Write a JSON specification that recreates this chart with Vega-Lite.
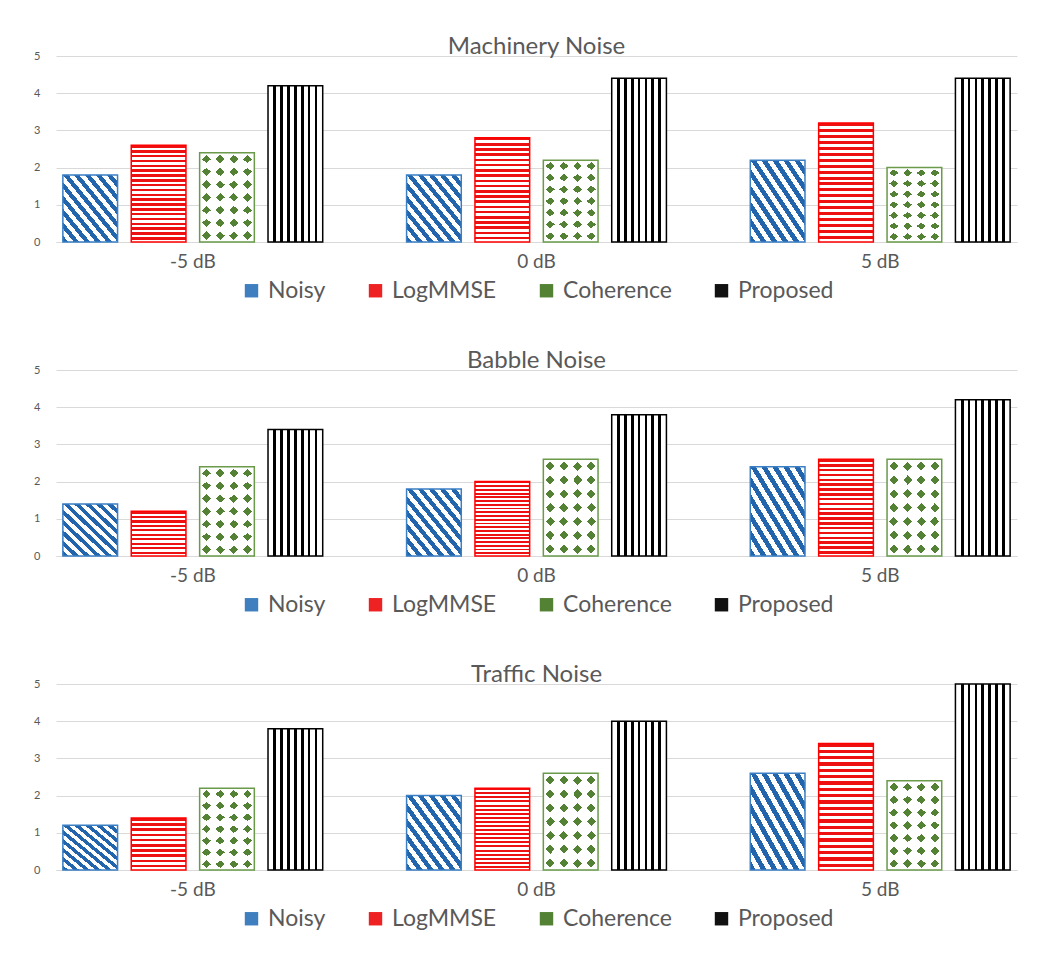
{
  "$schema": "https://vega.github.io/schema/vega-lite/v6.json",
  "padding": {"left": 33, "top": 35, "right": 10, "bottom": 5},
  "datasets": {
    "scores": [
      {"noise": "Machinery Noise", "snr": "-5 dB", "method": "Noisy", "score": 1.8},
      {"noise": "Machinery Noise", "snr": "-5 dB", "method": "LogMMSE", "score": 2.6},
      {"noise": "Machinery Noise", "snr": "-5 dB", "method": "Coherence", "score": 2.4},
      {"noise": "Machinery Noise", "snr": "-5 dB", "method": "Proposed", "score": 4.2},
      {"noise": "Machinery Noise", "snr": "0 dB", "method": "Noisy", "score": 1.8},
      {"noise": "Machinery Noise", "snr": "0 dB", "method": "LogMMSE", "score": 2.8},
      {"noise": "Machinery Noise", "snr": "0 dB", "method": "Coherence", "score": 2.2},
      {"noise": "Machinery Noise", "snr": "0 dB", "method": "Proposed", "score": 4.4},
      {"noise": "Machinery Noise", "snr": "5 dB", "method": "Noisy", "score": 2.2},
      {"noise": "Machinery Noise", "snr": "5 dB", "method": "LogMMSE", "score": 3.2},
      {"noise": "Machinery Noise", "snr": "5 dB", "method": "Coherence", "score": 2.0},
      {"noise": "Machinery Noise", "snr": "5 dB", "method": "Proposed", "score": 4.4},
      {"noise": "Babble Noise", "snr": "-5 dB", "method": "Noisy", "score": 1.4},
      {"noise": "Babble Noise", "snr": "-5 dB", "method": "LogMMSE", "score": 1.2},
      {"noise": "Babble Noise", "snr": "-5 dB", "method": "Coherence", "score": 2.4},
      {"noise": "Babble Noise", "snr": "-5 dB", "method": "Proposed", "score": 3.4},
      {"noise": "Babble Noise", "snr": "0 dB", "method": "Noisy", "score": 1.8},
      {"noise": "Babble Noise", "snr": "0 dB", "method": "LogMMSE", "score": 2.0},
      {"noise": "Babble Noise", "snr": "0 dB", "method": "Coherence", "score": 2.6},
      {"noise": "Babble Noise", "snr": "0 dB", "method": "Proposed", "score": 3.8},
      {"noise": "Babble Noise", "snr": "5 dB", "method": "Noisy", "score": 2.4},
      {"noise": "Babble Noise", "snr": "5 dB", "method": "LogMMSE", "score": 2.6},
      {"noise": "Babble Noise", "snr": "5 dB", "method": "Coherence", "score": 2.6},
      {"noise": "Babble Noise", "snr": "5 dB", "method": "Proposed", "score": 4.2},
      {"noise": "Traffic Noise", "snr": "-5 dB", "method": "Noisy", "score": 1.2},
      {"noise": "Traffic Noise", "snr": "-5 dB", "method": "LogMMSE", "score": 1.4},
      {"noise": "Traffic Noise", "snr": "-5 dB", "method": "Coherence", "score": 2.2},
      {"noise": "Traffic Noise", "snr": "-5 dB", "method": "Proposed", "score": 3.8},
      {"noise": "Traffic Noise", "snr": "0 dB", "method": "Noisy", "score": 2.0},
      {"noise": "Traffic Noise", "snr": "0 dB", "method": "LogMMSE", "score": 2.2},
      {"noise": "Traffic Noise", "snr": "0 dB", "method": "Coherence", "score": 2.6},
      {"noise": "Traffic Noise", "snr": "0 dB", "method": "Proposed", "score": 4.0},
      {"noise": "Traffic Noise", "snr": "5 dB", "method": "Noisy", "score": 2.6},
      {"noise": "Traffic Noise", "snr": "5 dB", "method": "LogMMSE", "score": 3.4},
      {"noise": "Traffic Noise", "snr": "5 dB", "method": "Coherence", "score": 2.4},
      {"noise": "Traffic Noise", "snr": "5 dB", "method": "Proposed", "score": 5.0}
    ]
  },
  "spacing": 46,
  "resolve": {"legend": {"fill": "independent"}},
  "vconcat": [
    {
      "title": "Machinery Noise",
      "width": 961, "height": 186,
      "data": {"name": "scores"},
      "transform": [{"filter": "datum.noise === 'Machinery Noise'"}],
      "encoding": {
        "x": {"field": "snr", "type": "nominal", "sort": ["-5 dB", "0 dB", "5 dB"], "scale": {"paddingInner": 0.244, "paddingOuter": 0.02}, "axis": {"title": null}},
        "xOffset": {"field": "method", "type": "nominal", "scale": {"domain": ["Noisy", "LogMMSE", "Coherence", "Proposed"], "paddingInner": 0.2, "paddingOuter": 0}},
        "y": {"field": "score", "type": "quantitative", "scale": {"domain": [0, 5], "nice": false}, "axis": {"title": null, "values": [0, 1, 2, 3, 4, 5]}}
      },
      "layer": [
        {"mark": {"type": "bar"}, "encoding": {"fill": {"field": "method", "type": "nominal", "scale": {"domain": ["Noisy", "LogMMSE", "Coherence", "Proposed"], "range": ["#3f7fc0", "#ee2222", "#548235", "#111111"]}, "legend": {"title": null}}}},
        {"transform": [{"filter": "datum.method === 'Noisy'"}], "mark": {"type": "bar", "fill": {"gradient": "linear", "x1": 0, "y1": 1, "x2": 1, "y2": 0, "stops": [
          {"offset":0,"color":"#2265ac"},{"offset":0.05,"color":"#2265ac"},{"offset":0.05,"color":"#fff"},{"offset":0.1,"color":"#fff"},
          {"offset":0.1,"color":"#2265ac"},{"offset":0.15,"color":"#2265ac"},{"offset":0.15,"color":"#fff"},{"offset":0.2,"color":"#fff"},
          {"offset":0.2,"color":"#2265ac"},{"offset":0.25,"color":"#2265ac"},{"offset":0.25,"color":"#fff"},{"offset":0.3,"color":"#fff"},
          {"offset":0.3,"color":"#2265ac"},{"offset":0.35,"color":"#2265ac"},{"offset":0.35,"color":"#fff"},{"offset":0.4,"color":"#fff"},
          {"offset":0.4,"color":"#2265ac"},{"offset":0.45,"color":"#2265ac"},{"offset":0.45,"color":"#fff"},{"offset":0.5,"color":"#fff"},
          {"offset":0.5,"color":"#2265ac"},{"offset":0.55,"color":"#2265ac"},{"offset":0.55,"color":"#fff"},{"offset":0.6,"color":"#fff"},
          {"offset":0.6,"color":"#2265ac"},{"offset":0.65,"color":"#2265ac"},{"offset":0.65,"color":"#fff"},{"offset":0.7,"color":"#fff"},
          {"offset":0.7,"color":"#2265ac"},{"offset":0.75,"color":"#2265ac"},{"offset":0.75,"color":"#fff"},{"offset":0.8,"color":"#fff"},
          {"offset":0.8,"color":"#2265ac"},{"offset":0.85,"color":"#2265ac"},{"offset":0.85,"color":"#fff"},{"offset":0.9,"color":"#fff"},
          {"offset":0.9,"color":"#2265ac"},{"offset":0.95,"color":"#2265ac"},{"offset":0.95,"color":"#fff"},{"offset":1,"color":"#fff"}]}}},
        {"transform": [{"filter": "datum.method === 'LogMMSE' && datum.score < 1.7"}], "mark": {"type": "bar", "fill": {"gradient": "linear", "x1": 0, "y1": 0, "x2": 0, "y2": 1, "stops": [
          {"offset":0,"color":"#ee1111"},{"offset":0.05,"color":"#ee1111"},{"offset":0.05,"color":"#fff"},{"offset":0.1,"color":"#fff"},
          {"offset":0.1,"color":"#ee1111"},{"offset":0.15,"color":"#ee1111"},{"offset":0.15,"color":"#fff"},{"offset":0.2,"color":"#fff"},
          {"offset":0.2,"color":"#ee1111"},{"offset":0.25,"color":"#ee1111"},{"offset":0.25,"color":"#fff"},{"offset":0.3,"color":"#fff"},
          {"offset":0.3,"color":"#ee1111"},{"offset":0.35,"color":"#ee1111"},{"offset":0.35,"color":"#fff"},{"offset":0.4,"color":"#fff"},
          {"offset":0.4,"color":"#ee1111"},{"offset":0.45,"color":"#ee1111"},{"offset":0.45,"color":"#fff"},{"offset":0.5,"color":"#fff"},
          {"offset":0.5,"color":"#ee1111"},{"offset":0.55,"color":"#ee1111"},{"offset":0.55,"color":"#fff"},{"offset":0.6,"color":"#fff"},
          {"offset":0.6,"color":"#ee1111"},{"offset":0.65,"color":"#ee1111"},{"offset":0.65,"color":"#fff"},{"offset":0.7,"color":"#fff"},
          {"offset":0.7,"color":"#ee1111"},{"offset":0.75,"color":"#ee1111"},{"offset":0.75,"color":"#fff"},{"offset":0.8,"color":"#fff"},
          {"offset":0.8,"color":"#ee1111"},{"offset":0.85,"color":"#ee1111"},{"offset":0.85,"color":"#fff"},{"offset":0.9,"color":"#fff"},
          {"offset":0.9,"color":"#ee1111"},{"offset":0.95,"color":"#ee1111"},{"offset":0.95,"color":"#fff"},{"offset":1,"color":"#fff"}]}}},
        {"transform": [{"filter": "datum.method === 'LogMMSE' && datum.score >= 1.7"}], "mark": {"type": "bar", "fill": {"gradient": "linear", "x1": 0, "y1": 0, "x2": 0, "y2": 1, "stops": [
          {"offset":0,"color":"#ee1111"},{"offset":0.025,"color":"#ee1111"},{"offset":0.025,"color":"#fff"},{"offset":0.05,"color":"#fff"},
          {"offset":0.05,"color":"#ee1111"},{"offset":0.075,"color":"#ee1111"},{"offset":0.075,"color":"#fff"},{"offset":0.1,"color":"#fff"},
          {"offset":0.1,"color":"#ee1111"},{"offset":0.125,"color":"#ee1111"},{"offset":0.125,"color":"#fff"},{"offset":0.15,"color":"#fff"},
          {"offset":0.15,"color":"#ee1111"},{"offset":0.175,"color":"#ee1111"},{"offset":0.175,"color":"#fff"},{"offset":0.2,"color":"#fff"},
          {"offset":0.2,"color":"#ee1111"},{"offset":0.225,"color":"#ee1111"},{"offset":0.225,"color":"#fff"},{"offset":0.25,"color":"#fff"},
          {"offset":0.25,"color":"#ee1111"},{"offset":0.275,"color":"#ee1111"},{"offset":0.275,"color":"#fff"},{"offset":0.3,"color":"#fff"},
          {"offset":0.3,"color":"#ee1111"},{"offset":0.325,"color":"#ee1111"},{"offset":0.325,"color":"#fff"},{"offset":0.35,"color":"#fff"},
          {"offset":0.35,"color":"#ee1111"},{"offset":0.375,"color":"#ee1111"},{"offset":0.375,"color":"#fff"},{"offset":0.4,"color":"#fff"},
          {"offset":0.4,"color":"#ee1111"},{"offset":0.425,"color":"#ee1111"},{"offset":0.425,"color":"#fff"},{"offset":0.45,"color":"#fff"},
          {"offset":0.45,"color":"#ee1111"},{"offset":0.475,"color":"#ee1111"},{"offset":0.475,"color":"#fff"},{"offset":0.5,"color":"#fff"},
          {"offset":0.5,"color":"#ee1111"},{"offset":0.525,"color":"#ee1111"},{"offset":0.525,"color":"#fff"},{"offset":0.55,"color":"#fff"},
          {"offset":0.55,"color":"#ee1111"},{"offset":0.575,"color":"#ee1111"},{"offset":0.575,"color":"#fff"},{"offset":0.6,"color":"#fff"},
          {"offset":0.6,"color":"#ee1111"},{"offset":0.625,"color":"#ee1111"},{"offset":0.625,"color":"#fff"},{"offset":0.65,"color":"#fff"},
          {"offset":0.65,"color":"#ee1111"},{"offset":0.675,"color":"#ee1111"},{"offset":0.675,"color":"#fff"},{"offset":0.7,"color":"#fff"},
          {"offset":0.7,"color":"#ee1111"},{"offset":0.725,"color":"#ee1111"},{"offset":0.725,"color":"#fff"},{"offset":0.75,"color":"#fff"},
          {"offset":0.75,"color":"#ee1111"},{"offset":0.775,"color":"#ee1111"},{"offset":0.775,"color":"#fff"},{"offset":0.8,"color":"#fff"},
          {"offset":0.8,"color":"#ee1111"},{"offset":0.825,"color":"#ee1111"},{"offset":0.825,"color":"#fff"},{"offset":0.85,"color":"#fff"},
          {"offset":0.85,"color":"#ee1111"},{"offset":0.875,"color":"#ee1111"},{"offset":0.875,"color":"#fff"},{"offset":0.9,"color":"#fff"},
          {"offset":0.9,"color":"#ee1111"},{"offset":0.925,"color":"#ee1111"},{"offset":0.925,"color":"#fff"},{"offset":0.95,"color":"#fff"},
          {"offset":0.95,"color":"#ee1111"},{"offset":0.975,"color":"#ee1111"},{"offset":0.975,"color":"#fff"},{"offset":1,"color":"#fff"}]}}},
        {"transform": [{"filter": "datum.method === 'Coherence'"}], "mark": {"type": "bar", "fill": {"gradient": "linear", "x1": 0, "y1": 0, "x2": 1, "y2": 0, "stops": [
          {"offset":0,"color":"#fff"},{"offset":0.0425,"color":"#fff"},{"offset":0.0425,"color":"rgba(255,255,255,0)"},{"offset":0.2075,"color":"rgba(255,255,255,0)"},
          {"offset":0.2075,"color":"#fff"},{"offset":0.2925,"color":"#fff"},{"offset":0.2925,"color":"rgba(255,255,255,0)"},{"offset":0.4575,"color":"rgba(255,255,255,0)"},
          {"offset":0.4575,"color":"#fff"},{"offset":0.5425,"color":"#fff"},{"offset":0.5425,"color":"rgba(255,255,255,0)"},{"offset":0.7075,"color":"rgba(255,255,255,0)"},
          {"offset":0.7075,"color":"#fff"},{"offset":0.7925,"color":"#fff"},{"offset":0.7925,"color":"rgba(255,255,255,0)"},{"offset":0.9575,"color":"rgba(255,255,255,0)"},
          {"offset":0.9575,"color":"#fff"},{"offset":1,"color":"#fff"}]}}},
        {"transform": [{"filter": "datum.method === 'Coherence'"}], "mark": {"type": "bar", "fill": {"gradient": "linear", "x1": 0, "y1": 0, "x2": 0, "y2": 1, "stops": [
          {"offset":0,"color":"#fff"},{"offset":0.0243,"color":"#fff"},{"offset":0.0243,"color":"rgba(255,255,255,0)"},{"offset":0.1185,"color":"rgba(255,255,255,0)"},
          {"offset":0.1185,"color":"#fff"},{"offset":0.1672,"color":"#fff"},{"offset":0.1672,"color":"rgba(255,255,255,0)"},{"offset":0.2614,"color":"rgba(255,255,255,0)"},
          {"offset":0.2614,"color":"#fff"},{"offset":0.31,"color":"#fff"},{"offset":0.31,"color":"rgba(255,255,255,0)"},{"offset":0.4042,"color":"rgba(255,255,255,0)"},
          {"offset":0.4042,"color":"#fff"},{"offset":0.4529,"color":"#fff"},{"offset":0.4529,"color":"rgba(255,255,255,0)"},{"offset":0.5471,"color":"rgba(255,255,255,0)"},
          {"offset":0.5471,"color":"#fff"},{"offset":0.5958,"color":"#fff"},{"offset":0.5958,"color":"rgba(255,255,255,0)"},{"offset":0.69,"color":"rgba(255,255,255,0)"},
          {"offset":0.69,"color":"#fff"},{"offset":0.7386,"color":"#fff"},{"offset":0.7386,"color":"rgba(255,255,255,0)"},{"offset":0.8328,"color":"rgba(255,255,255,0)"},
          {"offset":0.8328,"color":"#fff"},{"offset":0.8815,"color":"#fff"},{"offset":0.8815,"color":"rgba(255,255,255,0)"},{"offset":0.9757,"color":"rgba(255,255,255,0)"},
          {"offset":0.9757,"color":"#fff"},{"offset":1,"color":"#fff"}]}}},
        {"transform": [{"filter": "datum.method === 'Coherence'"}], "mark": {"type": "bar", "fill": {"gradient": "linear", "x1": 0, "y1": 0, "x2": 0.6769, "y2": 1.1846, "stops": [
          {"offset":0,"color":"rgba(255,255,255,0)"},{"offset":0.03,"color":"rgba(255,255,255,0)"},{"offset":0.03,"color":"#fff"},{"offset":0.0609,"color":"#fff"},
          {"offset":0.0609,"color":"rgba(255,255,255,0)"},{"offset":0.1209,"color":"rgba(255,255,255,0)"},{"offset":0.1209,"color":"#fff"},{"offset":0.1518,"color":"#fff"},
          {"offset":0.1518,"color":"rgba(255,255,255,0)"},{"offset":0.2118,"color":"rgba(255,255,255,0)"},{"offset":0.2118,"color":"#fff"},{"offset":0.2427,"color":"#fff"},
          {"offset":0.2427,"color":"rgba(255,255,255,0)"},{"offset":0.3027,"color":"rgba(255,255,255,0)"},{"offset":0.3027,"color":"#fff"},{"offset":0.3336,"color":"#fff"},
          {"offset":0.3336,"color":"rgba(255,255,255,0)"},{"offset":0.3936,"color":"rgba(255,255,255,0)"},{"offset":0.3936,"color":"#fff"},{"offset":0.4245,"color":"#fff"},
          {"offset":0.4245,"color":"rgba(255,255,255,0)"},{"offset":0.4845,"color":"rgba(255,255,255,0)"},{"offset":0.4845,"color":"#fff"},{"offset":0.5155,"color":"#fff"},
          {"offset":0.5155,"color":"rgba(255,255,255,0)"},{"offset":0.5755,"color":"rgba(255,255,255,0)"},{"offset":0.5755,"color":"#fff"},{"offset":0.6064,"color":"#fff"},
          {"offset":0.6064,"color":"rgba(255,255,255,0)"},{"offset":0.6664,"color":"rgba(255,255,255,0)"},{"offset":0.6664,"color":"#fff"},{"offset":0.6973,"color":"#fff"},
          {"offset":0.6973,"color":"rgba(255,255,255,0)"},{"offset":0.7573,"color":"rgba(255,255,255,0)"},{"offset":0.7573,"color":"#fff"},{"offset":0.7882,"color":"#fff"},
          {"offset":0.7882,"color":"rgba(255,255,255,0)"},{"offset":0.8482,"color":"rgba(255,255,255,0)"},{"offset":0.8482,"color":"#fff"},{"offset":0.8791,"color":"#fff"},
          {"offset":0.8791,"color":"rgba(255,255,255,0)"},{"offset":0.9391,"color":"rgba(255,255,255,0)"},{"offset":0.9391,"color":"#fff"},{"offset":0.97,"color":"#fff"},
          {"offset":0.97,"color":"rgba(255,255,255,0)"},{"offset":1,"color":"rgba(255,255,255,0)"}]}}},
        {"transform": [{"filter": "datum.method === 'Coherence'"}], "mark": {"type": "bar", "fill": {"gradient": "linear", "x1": 0, "y1": 1, "x2": 0.6769, "y2": -0.1846, "stops": [
          {"offset":0,"color":"rgba(255,255,255,0)"},{"offset":0.03,"color":"rgba(255,255,255,0)"},{"offset":0.03,"color":"#fff"},{"offset":0.0609,"color":"#fff"},
          {"offset":0.0609,"color":"rgba(255,255,255,0)"},{"offset":0.1209,"color":"rgba(255,255,255,0)"},{"offset":0.1209,"color":"#fff"},{"offset":0.1518,"color":"#fff"},
          {"offset":0.1518,"color":"rgba(255,255,255,0)"},{"offset":0.2118,"color":"rgba(255,255,255,0)"},{"offset":0.2118,"color":"#fff"},{"offset":0.2427,"color":"#fff"},
          {"offset":0.2427,"color":"rgba(255,255,255,0)"},{"offset":0.3027,"color":"rgba(255,255,255,0)"},{"offset":0.3027,"color":"#fff"},{"offset":0.3336,"color":"#fff"},
          {"offset":0.3336,"color":"rgba(255,255,255,0)"},{"offset":0.3936,"color":"rgba(255,255,255,0)"},{"offset":0.3936,"color":"#fff"},{"offset":0.4245,"color":"#fff"},
          {"offset":0.4245,"color":"rgba(255,255,255,0)"},{"offset":0.4845,"color":"rgba(255,255,255,0)"},{"offset":0.4845,"color":"#fff"},{"offset":0.5155,"color":"#fff"},
          {"offset":0.5155,"color":"rgba(255,255,255,0)"},{"offset":0.5755,"color":"rgba(255,255,255,0)"},{"offset":0.5755,"color":"#fff"},{"offset":0.6064,"color":"#fff"},
          {"offset":0.6064,"color":"rgba(255,255,255,0)"},{"offset":0.6664,"color":"rgba(255,255,255,0)"},{"offset":0.6664,"color":"#fff"},{"offset":0.6973,"color":"#fff"},
          {"offset":0.6973,"color":"rgba(255,255,255,0)"},{"offset":0.7573,"color":"rgba(255,255,255,0)"},{"offset":0.7573,"color":"#fff"},{"offset":0.7882,"color":"#fff"},
          {"offset":0.7882,"color":"rgba(255,255,255,0)"},{"offset":0.8482,"color":"rgba(255,255,255,0)"},{"offset":0.8482,"color":"#fff"},{"offset":0.8791,"color":"#fff"},
          {"offset":0.8791,"color":"rgba(255,255,255,0)"},{"offset":0.9391,"color":"rgba(255,255,255,0)"},{"offset":0.9391,"color":"#fff"},{"offset":0.97,"color":"#fff"},
          {"offset":0.97,"color":"rgba(255,255,255,0)"},{"offset":1,"color":"rgba(255,255,255,0)"}]}}},
        {"transform": [{"filter": "datum.method === 'Proposed'"}], "mark": {"type": "bar", "fill": {"gradient": "linear", "x1": 0, "y1": 0, "x2": 1, "y2": 0, "stops": [
          {"offset":0,"color":"#fff"},{"offset":0.1,"color":"#fff"},{"offset":0.1,"color":"#000"},{"offset":0.15,"color":"#000"},
          {"offset":0.15,"color":"#fff"},{"offset":0.225,"color":"#fff"},{"offset":0.225,"color":"#000"},{"offset":0.275,"color":"#000"},
          {"offset":0.275,"color":"#fff"},{"offset":0.35,"color":"#fff"},{"offset":0.35,"color":"#000"},{"offset":0.4,"color":"#000"},
          {"offset":0.4,"color":"#fff"},{"offset":0.475,"color":"#fff"},{"offset":0.475,"color":"#000"},{"offset":0.525,"color":"#000"},
          {"offset":0.525,"color":"#fff"},{"offset":0.6,"color":"#fff"},{"offset":0.6,"color":"#000"},{"offset":0.65,"color":"#000"},
          {"offset":0.65,"color":"#fff"},{"offset":0.725,"color":"#fff"},{"offset":0.725,"color":"#000"},{"offset":0.775,"color":"#000"},
          {"offset":0.775,"color":"#fff"},{"offset":0.85,"color":"#fff"},{"offset":0.85,"color":"#000"},{"offset":0.9,"color":"#000"},
          {"offset":0.9,"color":"#fff"},{"offset":1,"color":"#fff"}]}}},
        {"mark": {"type": "bar", "fillOpacity": 0, "strokeWidth": 1.5}, "encoding": {"stroke": {"field": "method", "type": "nominal", "scale": {"domain": ["Noisy", "LogMMSE", "Coherence", "Proposed"], "range": ["#3a7fc4", "#ff0000", "#6a9a4a", "#000000"]}, "legend": null}}}
      ]
    },
    {
      "title": "Babble Noise",
      "width": 961, "height": 186,
      "data": {"name": "scores"},
      "transform": [{"filter": "datum.noise === 'Babble Noise'"}],
      "encoding": {
        "x": {"field": "snr", "type": "nominal", "sort": ["-5 dB", "0 dB", "5 dB"], "scale": {"paddingInner": 0.244, "paddingOuter": 0.02}, "axis": {"title": null}},
        "xOffset": {"field": "method", "type": "nominal", "scale": {"domain": ["Noisy", "LogMMSE", "Coherence", "Proposed"], "paddingInner": 0.2, "paddingOuter": 0}},
        "y": {"field": "score", "type": "quantitative", "scale": {"domain": [0, 5], "nice": false}, "axis": {"title": null, "values": [0, 1, 2, 3, 4, 5]}}
      },
      "layer": [
        {"mark": {"type": "bar"}, "encoding": {"fill": {"field": "method", "type": "nominal", "scale": {"domain": ["Noisy", "LogMMSE", "Coherence", "Proposed"], "range": ["#3f7fc0", "#ee2222", "#548235", "#111111"]}, "legend": {"title": null}}}},
        {"transform": [{"filter": "datum.method === 'Noisy'"}], "mark": {"type": "bar", "fill": {"gradient": "linear", "x1": 0, "y1": 1, "x2": 1, "y2": 0, "stops": [
          {"offset":0,"color":"#2265ac"},{"offset":0.05,"color":"#2265ac"},{"offset":0.05,"color":"#fff"},{"offset":0.1,"color":"#fff"},
          {"offset":0.1,"color":"#2265ac"},{"offset":0.15,"color":"#2265ac"},{"offset":0.15,"color":"#fff"},{"offset":0.2,"color":"#fff"},
          {"offset":0.2,"color":"#2265ac"},{"offset":0.25,"color":"#2265ac"},{"offset":0.25,"color":"#fff"},{"offset":0.3,"color":"#fff"},
          {"offset":0.3,"color":"#2265ac"},{"offset":0.35,"color":"#2265ac"},{"offset":0.35,"color":"#fff"},{"offset":0.4,"color":"#fff"},
          {"offset":0.4,"color":"#2265ac"},{"offset":0.45,"color":"#2265ac"},{"offset":0.45,"color":"#fff"},{"offset":0.5,"color":"#fff"},
          {"offset":0.5,"color":"#2265ac"},{"offset":0.55,"color":"#2265ac"},{"offset":0.55,"color":"#fff"},{"offset":0.6,"color":"#fff"},
          {"offset":0.6,"color":"#2265ac"},{"offset":0.65,"color":"#2265ac"},{"offset":0.65,"color":"#fff"},{"offset":0.7,"color":"#fff"},
          {"offset":0.7,"color":"#2265ac"},{"offset":0.75,"color":"#2265ac"},{"offset":0.75,"color":"#fff"},{"offset":0.8,"color":"#fff"},
          {"offset":0.8,"color":"#2265ac"},{"offset":0.85,"color":"#2265ac"},{"offset":0.85,"color":"#fff"},{"offset":0.9,"color":"#fff"},
          {"offset":0.9,"color":"#2265ac"},{"offset":0.95,"color":"#2265ac"},{"offset":0.95,"color":"#fff"},{"offset":1,"color":"#fff"}]}}},
        {"transform": [{"filter": "datum.method === 'LogMMSE' && datum.score < 1.7"}], "mark": {"type": "bar", "fill": {"gradient": "linear", "x1": 0, "y1": 0, "x2": 0, "y2": 1, "stops": [
          {"offset":0,"color":"#ee1111"},{"offset":0.05,"color":"#ee1111"},{"offset":0.05,"color":"#fff"},{"offset":0.1,"color":"#fff"},
          {"offset":0.1,"color":"#ee1111"},{"offset":0.15,"color":"#ee1111"},{"offset":0.15,"color":"#fff"},{"offset":0.2,"color":"#fff"},
          {"offset":0.2,"color":"#ee1111"},{"offset":0.25,"color":"#ee1111"},{"offset":0.25,"color":"#fff"},{"offset":0.3,"color":"#fff"},
          {"offset":0.3,"color":"#ee1111"},{"offset":0.35,"color":"#ee1111"},{"offset":0.35,"color":"#fff"},{"offset":0.4,"color":"#fff"},
          {"offset":0.4,"color":"#ee1111"},{"offset":0.45,"color":"#ee1111"},{"offset":0.45,"color":"#fff"},{"offset":0.5,"color":"#fff"},
          {"offset":0.5,"color":"#ee1111"},{"offset":0.55,"color":"#ee1111"},{"offset":0.55,"color":"#fff"},{"offset":0.6,"color":"#fff"},
          {"offset":0.6,"color":"#ee1111"},{"offset":0.65,"color":"#ee1111"},{"offset":0.65,"color":"#fff"},{"offset":0.7,"color":"#fff"},
          {"offset":0.7,"color":"#ee1111"},{"offset":0.75,"color":"#ee1111"},{"offset":0.75,"color":"#fff"},{"offset":0.8,"color":"#fff"},
          {"offset":0.8,"color":"#ee1111"},{"offset":0.85,"color":"#ee1111"},{"offset":0.85,"color":"#fff"},{"offset":0.9,"color":"#fff"},
          {"offset":0.9,"color":"#ee1111"},{"offset":0.95,"color":"#ee1111"},{"offset":0.95,"color":"#fff"},{"offset":1,"color":"#fff"}]}}},
        {"transform": [{"filter": "datum.method === 'LogMMSE' && datum.score >= 1.7"}], "mark": {"type": "bar", "fill": {"gradient": "linear", "x1": 0, "y1": 0, "x2": 0, "y2": 1, "stops": [
          {"offset":0,"color":"#ee1111"},{"offset":0.025,"color":"#ee1111"},{"offset":0.025,"color":"#fff"},{"offset":0.05,"color":"#fff"},
          {"offset":0.05,"color":"#ee1111"},{"offset":0.075,"color":"#ee1111"},{"offset":0.075,"color":"#fff"},{"offset":0.1,"color":"#fff"},
          {"offset":0.1,"color":"#ee1111"},{"offset":0.125,"color":"#ee1111"},{"offset":0.125,"color":"#fff"},{"offset":0.15,"color":"#fff"},
          {"offset":0.15,"color":"#ee1111"},{"offset":0.175,"color":"#ee1111"},{"offset":0.175,"color":"#fff"},{"offset":0.2,"color":"#fff"},
          {"offset":0.2,"color":"#ee1111"},{"offset":0.225,"color":"#ee1111"},{"offset":0.225,"color":"#fff"},{"offset":0.25,"color":"#fff"},
          {"offset":0.25,"color":"#ee1111"},{"offset":0.275,"color":"#ee1111"},{"offset":0.275,"color":"#fff"},{"offset":0.3,"color":"#fff"},
          {"offset":0.3,"color":"#ee1111"},{"offset":0.325,"color":"#ee1111"},{"offset":0.325,"color":"#fff"},{"offset":0.35,"color":"#fff"},
          {"offset":0.35,"color":"#ee1111"},{"offset":0.375,"color":"#ee1111"},{"offset":0.375,"color":"#fff"},{"offset":0.4,"color":"#fff"},
          {"offset":0.4,"color":"#ee1111"},{"offset":0.425,"color":"#ee1111"},{"offset":0.425,"color":"#fff"},{"offset":0.45,"color":"#fff"},
          {"offset":0.45,"color":"#ee1111"},{"offset":0.475,"color":"#ee1111"},{"offset":0.475,"color":"#fff"},{"offset":0.5,"color":"#fff"},
          {"offset":0.5,"color":"#ee1111"},{"offset":0.525,"color":"#ee1111"},{"offset":0.525,"color":"#fff"},{"offset":0.55,"color":"#fff"},
          {"offset":0.55,"color":"#ee1111"},{"offset":0.575,"color":"#ee1111"},{"offset":0.575,"color":"#fff"},{"offset":0.6,"color":"#fff"},
          {"offset":0.6,"color":"#ee1111"},{"offset":0.625,"color":"#ee1111"},{"offset":0.625,"color":"#fff"},{"offset":0.65,"color":"#fff"},
          {"offset":0.65,"color":"#ee1111"},{"offset":0.675,"color":"#ee1111"},{"offset":0.675,"color":"#fff"},{"offset":0.7,"color":"#fff"},
          {"offset":0.7,"color":"#ee1111"},{"offset":0.725,"color":"#ee1111"},{"offset":0.725,"color":"#fff"},{"offset":0.75,"color":"#fff"},
          {"offset":0.75,"color":"#ee1111"},{"offset":0.775,"color":"#ee1111"},{"offset":0.775,"color":"#fff"},{"offset":0.8,"color":"#fff"},
          {"offset":0.8,"color":"#ee1111"},{"offset":0.825,"color":"#ee1111"},{"offset":0.825,"color":"#fff"},{"offset":0.85,"color":"#fff"},
          {"offset":0.85,"color":"#ee1111"},{"offset":0.875,"color":"#ee1111"},{"offset":0.875,"color":"#fff"},{"offset":0.9,"color":"#fff"},
          {"offset":0.9,"color":"#ee1111"},{"offset":0.925,"color":"#ee1111"},{"offset":0.925,"color":"#fff"},{"offset":0.95,"color":"#fff"},
          {"offset":0.95,"color":"#ee1111"},{"offset":0.975,"color":"#ee1111"},{"offset":0.975,"color":"#fff"},{"offset":1,"color":"#fff"}]}}},
        {"transform": [{"filter": "datum.method === 'Coherence'"}], "mark": {"type": "bar", "fill": {"gradient": "linear", "x1": 0, "y1": 0, "x2": 1, "y2": 0, "stops": [
          {"offset":0,"color":"#fff"},{"offset":0.0425,"color":"#fff"},{"offset":0.0425,"color":"rgba(255,255,255,0)"},{"offset":0.2075,"color":"rgba(255,255,255,0)"},
          {"offset":0.2075,"color":"#fff"},{"offset":0.2925,"color":"#fff"},{"offset":0.2925,"color":"rgba(255,255,255,0)"},{"offset":0.4575,"color":"rgba(255,255,255,0)"},
          {"offset":0.4575,"color":"#fff"},{"offset":0.5425,"color":"#fff"},{"offset":0.5425,"color":"rgba(255,255,255,0)"},{"offset":0.7075,"color":"rgba(255,255,255,0)"},
          {"offset":0.7075,"color":"#fff"},{"offset":0.7925,"color":"#fff"},{"offset":0.7925,"color":"rgba(255,255,255,0)"},{"offset":0.9575,"color":"rgba(255,255,255,0)"},
          {"offset":0.9575,"color":"#fff"},{"offset":1,"color":"#fff"}]}}},
        {"transform": [{"filter": "datum.method === 'Coherence'"}], "mark": {"type": "bar", "fill": {"gradient": "linear", "x1": 0, "y1": 0, "x2": 0, "y2": 1, "stops": [
          {"offset":0,"color":"#fff"},{"offset":0.0243,"color":"#fff"},{"offset":0.0243,"color":"rgba(255,255,255,0)"},{"offset":0.1185,"color":"rgba(255,255,255,0)"},
          {"offset":0.1185,"color":"#fff"},{"offset":0.1672,"color":"#fff"},{"offset":0.1672,"color":"rgba(255,255,255,0)"},{"offset":0.2614,"color":"rgba(255,255,255,0)"},
          {"offset":0.2614,"color":"#fff"},{"offset":0.31,"color":"#fff"},{"offset":0.31,"color":"rgba(255,255,255,0)"},{"offset":0.4042,"color":"rgba(255,255,255,0)"},
          {"offset":0.4042,"color":"#fff"},{"offset":0.4529,"color":"#fff"},{"offset":0.4529,"color":"rgba(255,255,255,0)"},{"offset":0.5471,"color":"rgba(255,255,255,0)"},
          {"offset":0.5471,"color":"#fff"},{"offset":0.5958,"color":"#fff"},{"offset":0.5958,"color":"rgba(255,255,255,0)"},{"offset":0.69,"color":"rgba(255,255,255,0)"},
          {"offset":0.69,"color":"#fff"},{"offset":0.7386,"color":"#fff"},{"offset":0.7386,"color":"rgba(255,255,255,0)"},{"offset":0.8328,"color":"rgba(255,255,255,0)"},
          {"offset":0.8328,"color":"#fff"},{"offset":0.8815,"color":"#fff"},{"offset":0.8815,"color":"rgba(255,255,255,0)"},{"offset":0.9757,"color":"rgba(255,255,255,0)"},
          {"offset":0.9757,"color":"#fff"},{"offset":1,"color":"#fff"}]}}},
        {"transform": [{"filter": "datum.method === 'Coherence'"}], "mark": {"type": "bar", "fill": {"gradient": "linear", "x1": 0, "y1": 0, "x2": 0.6769, "y2": 1.1846, "stops": [
          {"offset":0,"color":"rgba(255,255,255,0)"},{"offset":0.03,"color":"rgba(255,255,255,0)"},{"offset":0.03,"color":"#fff"},{"offset":0.0609,"color":"#fff"},
          {"offset":0.0609,"color":"rgba(255,255,255,0)"},{"offset":0.1209,"color":"rgba(255,255,255,0)"},{"offset":0.1209,"color":"#fff"},{"offset":0.1518,"color":"#fff"},
          {"offset":0.1518,"color":"rgba(255,255,255,0)"},{"offset":0.2118,"color":"rgba(255,255,255,0)"},{"offset":0.2118,"color":"#fff"},{"offset":0.2427,"color":"#fff"},
          {"offset":0.2427,"color":"rgba(255,255,255,0)"},{"offset":0.3027,"color":"rgba(255,255,255,0)"},{"offset":0.3027,"color":"#fff"},{"offset":0.3336,"color":"#fff"},
          {"offset":0.3336,"color":"rgba(255,255,255,0)"},{"offset":0.3936,"color":"rgba(255,255,255,0)"},{"offset":0.3936,"color":"#fff"},{"offset":0.4245,"color":"#fff"},
          {"offset":0.4245,"color":"rgba(255,255,255,0)"},{"offset":0.4845,"color":"rgba(255,255,255,0)"},{"offset":0.4845,"color":"#fff"},{"offset":0.5155,"color":"#fff"},
          {"offset":0.5155,"color":"rgba(255,255,255,0)"},{"offset":0.5755,"color":"rgba(255,255,255,0)"},{"offset":0.5755,"color":"#fff"},{"offset":0.6064,"color":"#fff"},
          {"offset":0.6064,"color":"rgba(255,255,255,0)"},{"offset":0.6664,"color":"rgba(255,255,255,0)"},{"offset":0.6664,"color":"#fff"},{"offset":0.6973,"color":"#fff"},
          {"offset":0.6973,"color":"rgba(255,255,255,0)"},{"offset":0.7573,"color":"rgba(255,255,255,0)"},{"offset":0.7573,"color":"#fff"},{"offset":0.7882,"color":"#fff"},
          {"offset":0.7882,"color":"rgba(255,255,255,0)"},{"offset":0.8482,"color":"rgba(255,255,255,0)"},{"offset":0.8482,"color":"#fff"},{"offset":0.8791,"color":"#fff"},
          {"offset":0.8791,"color":"rgba(255,255,255,0)"},{"offset":0.9391,"color":"rgba(255,255,255,0)"},{"offset":0.9391,"color":"#fff"},{"offset":0.97,"color":"#fff"},
          {"offset":0.97,"color":"rgba(255,255,255,0)"},{"offset":1,"color":"rgba(255,255,255,0)"}]}}},
        {"transform": [{"filter": "datum.method === 'Coherence'"}], "mark": {"type": "bar", "fill": {"gradient": "linear", "x1": 0, "y1": 1, "x2": 0.6769, "y2": -0.1846, "stops": [
          {"offset":0,"color":"rgba(255,255,255,0)"},{"offset":0.03,"color":"rgba(255,255,255,0)"},{"offset":0.03,"color":"#fff"},{"offset":0.0609,"color":"#fff"},
          {"offset":0.0609,"color":"rgba(255,255,255,0)"},{"offset":0.1209,"color":"rgba(255,255,255,0)"},{"offset":0.1209,"color":"#fff"},{"offset":0.1518,"color":"#fff"},
          {"offset":0.1518,"color":"rgba(255,255,255,0)"},{"offset":0.2118,"color":"rgba(255,255,255,0)"},{"offset":0.2118,"color":"#fff"},{"offset":0.2427,"color":"#fff"},
          {"offset":0.2427,"color":"rgba(255,255,255,0)"},{"offset":0.3027,"color":"rgba(255,255,255,0)"},{"offset":0.3027,"color":"#fff"},{"offset":0.3336,"color":"#fff"},
          {"offset":0.3336,"color":"rgba(255,255,255,0)"},{"offset":0.3936,"color":"rgba(255,255,255,0)"},{"offset":0.3936,"color":"#fff"},{"offset":0.4245,"color":"#fff"},
          {"offset":0.4245,"color":"rgba(255,255,255,0)"},{"offset":0.4845,"color":"rgba(255,255,255,0)"},{"offset":0.4845,"color":"#fff"},{"offset":0.5155,"color":"#fff"},
          {"offset":0.5155,"color":"rgba(255,255,255,0)"},{"offset":0.5755,"color":"rgba(255,255,255,0)"},{"offset":0.5755,"color":"#fff"},{"offset":0.6064,"color":"#fff"},
          {"offset":0.6064,"color":"rgba(255,255,255,0)"},{"offset":0.6664,"color":"rgba(255,255,255,0)"},{"offset":0.6664,"color":"#fff"},{"offset":0.6973,"color":"#fff"},
          {"offset":0.6973,"color":"rgba(255,255,255,0)"},{"offset":0.7573,"color":"rgba(255,255,255,0)"},{"offset":0.7573,"color":"#fff"},{"offset":0.7882,"color":"#fff"},
          {"offset":0.7882,"color":"rgba(255,255,255,0)"},{"offset":0.8482,"color":"rgba(255,255,255,0)"},{"offset":0.8482,"color":"#fff"},{"offset":0.8791,"color":"#fff"},
          {"offset":0.8791,"color":"rgba(255,255,255,0)"},{"offset":0.9391,"color":"rgba(255,255,255,0)"},{"offset":0.9391,"color":"#fff"},{"offset":0.97,"color":"#fff"},
          {"offset":0.97,"color":"rgba(255,255,255,0)"},{"offset":1,"color":"rgba(255,255,255,0)"}]}}},
        {"transform": [{"filter": "datum.method === 'Proposed'"}], "mark": {"type": "bar", "fill": {"gradient": "linear", "x1": 0, "y1": 0, "x2": 1, "y2": 0, "stops": [
          {"offset":0,"color":"#fff"},{"offset":0.1,"color":"#fff"},{"offset":0.1,"color":"#000"},{"offset":0.15,"color":"#000"},
          {"offset":0.15,"color":"#fff"},{"offset":0.225,"color":"#fff"},{"offset":0.225,"color":"#000"},{"offset":0.275,"color":"#000"},
          {"offset":0.275,"color":"#fff"},{"offset":0.35,"color":"#fff"},{"offset":0.35,"color":"#000"},{"offset":0.4,"color":"#000"},
          {"offset":0.4,"color":"#fff"},{"offset":0.475,"color":"#fff"},{"offset":0.475,"color":"#000"},{"offset":0.525,"color":"#000"},
          {"offset":0.525,"color":"#fff"},{"offset":0.6,"color":"#fff"},{"offset":0.6,"color":"#000"},{"offset":0.65,"color":"#000"},
          {"offset":0.65,"color":"#fff"},{"offset":0.725,"color":"#fff"},{"offset":0.725,"color":"#000"},{"offset":0.775,"color":"#000"},
          {"offset":0.775,"color":"#fff"},{"offset":0.85,"color":"#fff"},{"offset":0.85,"color":"#000"},{"offset":0.9,"color":"#000"},
          {"offset":0.9,"color":"#fff"},{"offset":1,"color":"#fff"}]}}},
        {"mark": {"type": "bar", "fillOpacity": 0, "strokeWidth": 1.5}, "encoding": {"stroke": {"field": "method", "type": "nominal", "scale": {"domain": ["Noisy", "LogMMSE", "Coherence", "Proposed"], "range": ["#3a7fc4", "#ff0000", "#6a9a4a", "#000000"]}, "legend": null}}}
      ]
    },
    {
      "title": "Traffic Noise",
      "width": 961, "height": 186,
      "data": {"name": "scores"},
      "transform": [{"filter": "datum.noise === 'Traffic Noise'"}],
      "encoding": {
        "x": {"field": "snr", "type": "nominal", "sort": ["-5 dB", "0 dB", "5 dB"], "scale": {"paddingInner": 0.244, "paddingOuter": 0.02}, "axis": {"title": null}},
        "xOffset": {"field": "method", "type": "nominal", "scale": {"domain": ["Noisy", "LogMMSE", "Coherence", "Proposed"], "paddingInner": 0.2, "paddingOuter": 0}},
        "y": {"field": "score", "type": "quantitative", "scale": {"domain": [0, 5], "nice": false}, "axis": {"title": null, "values": [0, 1, 2, 3, 4, 5]}}
      },
      "layer": [
        {"mark": {"type": "bar"}, "encoding": {"fill": {"field": "method", "type": "nominal", "scale": {"domain": ["Noisy", "LogMMSE", "Coherence", "Proposed"], "range": ["#3f7fc0", "#ee2222", "#548235", "#111111"]}, "legend": {"title": null}}}},
        {"transform": [{"filter": "datum.method === 'Noisy'"}], "mark": {"type": "bar", "fill": {"gradient": "linear", "x1": 0, "y1": 1, "x2": 1, "y2": 0, "stops": [
          {"offset":0,"color":"#2265ac"},{"offset":0.05,"color":"#2265ac"},{"offset":0.05,"color":"#fff"},{"offset":0.1,"color":"#fff"},
          {"offset":0.1,"color":"#2265ac"},{"offset":0.15,"color":"#2265ac"},{"offset":0.15,"color":"#fff"},{"offset":0.2,"color":"#fff"},
          {"offset":0.2,"color":"#2265ac"},{"offset":0.25,"color":"#2265ac"},{"offset":0.25,"color":"#fff"},{"offset":0.3,"color":"#fff"},
          {"offset":0.3,"color":"#2265ac"},{"offset":0.35,"color":"#2265ac"},{"offset":0.35,"color":"#fff"},{"offset":0.4,"color":"#fff"},
          {"offset":0.4,"color":"#2265ac"},{"offset":0.45,"color":"#2265ac"},{"offset":0.45,"color":"#fff"},{"offset":0.5,"color":"#fff"},
          {"offset":0.5,"color":"#2265ac"},{"offset":0.55,"color":"#2265ac"},{"offset":0.55,"color":"#fff"},{"offset":0.6,"color":"#fff"},
          {"offset":0.6,"color":"#2265ac"},{"offset":0.65,"color":"#2265ac"},{"offset":0.65,"color":"#fff"},{"offset":0.7,"color":"#fff"},
          {"offset":0.7,"color":"#2265ac"},{"offset":0.75,"color":"#2265ac"},{"offset":0.75,"color":"#fff"},{"offset":0.8,"color":"#fff"},
          {"offset":0.8,"color":"#2265ac"},{"offset":0.85,"color":"#2265ac"},{"offset":0.85,"color":"#fff"},{"offset":0.9,"color":"#fff"},
          {"offset":0.9,"color":"#2265ac"},{"offset":0.95,"color":"#2265ac"},{"offset":0.95,"color":"#fff"},{"offset":1,"color":"#fff"}]}}},
        {"transform": [{"filter": "datum.method === 'LogMMSE' && datum.score < 1.7"}], "mark": {"type": "bar", "fill": {"gradient": "linear", "x1": 0, "y1": 0, "x2": 0, "y2": 1, "stops": [
          {"offset":0,"color":"#ee1111"},{"offset":0.05,"color":"#ee1111"},{"offset":0.05,"color":"#fff"},{"offset":0.1,"color":"#fff"},
          {"offset":0.1,"color":"#ee1111"},{"offset":0.15,"color":"#ee1111"},{"offset":0.15,"color":"#fff"},{"offset":0.2,"color":"#fff"},
          {"offset":0.2,"color":"#ee1111"},{"offset":0.25,"color":"#ee1111"},{"offset":0.25,"color":"#fff"},{"offset":0.3,"color":"#fff"},
          {"offset":0.3,"color":"#ee1111"},{"offset":0.35,"color":"#ee1111"},{"offset":0.35,"color":"#fff"},{"offset":0.4,"color":"#fff"},
          {"offset":0.4,"color":"#ee1111"},{"offset":0.45,"color":"#ee1111"},{"offset":0.45,"color":"#fff"},{"offset":0.5,"color":"#fff"},
          {"offset":0.5,"color":"#ee1111"},{"offset":0.55,"color":"#ee1111"},{"offset":0.55,"color":"#fff"},{"offset":0.6,"color":"#fff"},
          {"offset":0.6,"color":"#ee1111"},{"offset":0.65,"color":"#ee1111"},{"offset":0.65,"color":"#fff"},{"offset":0.7,"color":"#fff"},
          {"offset":0.7,"color":"#ee1111"},{"offset":0.75,"color":"#ee1111"},{"offset":0.75,"color":"#fff"},{"offset":0.8,"color":"#fff"},
          {"offset":0.8,"color":"#ee1111"},{"offset":0.85,"color":"#ee1111"},{"offset":0.85,"color":"#fff"},{"offset":0.9,"color":"#fff"},
          {"offset":0.9,"color":"#ee1111"},{"offset":0.95,"color":"#ee1111"},{"offset":0.95,"color":"#fff"},{"offset":1,"color":"#fff"}]}}},
        {"transform": [{"filter": "datum.method === 'LogMMSE' && datum.score >= 1.7"}], "mark": {"type": "bar", "fill": {"gradient": "linear", "x1": 0, "y1": 0, "x2": 0, "y2": 1, "stops": [
          {"offset":0,"color":"#ee1111"},{"offset":0.025,"color":"#ee1111"},{"offset":0.025,"color":"#fff"},{"offset":0.05,"color":"#fff"},
          {"offset":0.05,"color":"#ee1111"},{"offset":0.075,"color":"#ee1111"},{"offset":0.075,"color":"#fff"},{"offset":0.1,"color":"#fff"},
          {"offset":0.1,"color":"#ee1111"},{"offset":0.125,"color":"#ee1111"},{"offset":0.125,"color":"#fff"},{"offset":0.15,"color":"#fff"},
          {"offset":0.15,"color":"#ee1111"},{"offset":0.175,"color":"#ee1111"},{"offset":0.175,"color":"#fff"},{"offset":0.2,"color":"#fff"},
          {"offset":0.2,"color":"#ee1111"},{"offset":0.225,"color":"#ee1111"},{"offset":0.225,"color":"#fff"},{"offset":0.25,"color":"#fff"},
          {"offset":0.25,"color":"#ee1111"},{"offset":0.275,"color":"#ee1111"},{"offset":0.275,"color":"#fff"},{"offset":0.3,"color":"#fff"},
          {"offset":0.3,"color":"#ee1111"},{"offset":0.325,"color":"#ee1111"},{"offset":0.325,"color":"#fff"},{"offset":0.35,"color":"#fff"},
          {"offset":0.35,"color":"#ee1111"},{"offset":0.375,"color":"#ee1111"},{"offset":0.375,"color":"#fff"},{"offset":0.4,"color":"#fff"},
          {"offset":0.4,"color":"#ee1111"},{"offset":0.425,"color":"#ee1111"},{"offset":0.425,"color":"#fff"},{"offset":0.45,"color":"#fff"},
          {"offset":0.45,"color":"#ee1111"},{"offset":0.475,"color":"#ee1111"},{"offset":0.475,"color":"#fff"},{"offset":0.5,"color":"#fff"},
          {"offset":0.5,"color":"#ee1111"},{"offset":0.525,"color":"#ee1111"},{"offset":0.525,"color":"#fff"},{"offset":0.55,"color":"#fff"},
          {"offset":0.55,"color":"#ee1111"},{"offset":0.575,"color":"#ee1111"},{"offset":0.575,"color":"#fff"},{"offset":0.6,"color":"#fff"},
          {"offset":0.6,"color":"#ee1111"},{"offset":0.625,"color":"#ee1111"},{"offset":0.625,"color":"#fff"},{"offset":0.65,"color":"#fff"},
          {"offset":0.65,"color":"#ee1111"},{"offset":0.675,"color":"#ee1111"},{"offset":0.675,"color":"#fff"},{"offset":0.7,"color":"#fff"},
          {"offset":0.7,"color":"#ee1111"},{"offset":0.725,"color":"#ee1111"},{"offset":0.725,"color":"#fff"},{"offset":0.75,"color":"#fff"},
          {"offset":0.75,"color":"#ee1111"},{"offset":0.775,"color":"#ee1111"},{"offset":0.775,"color":"#fff"},{"offset":0.8,"color":"#fff"},
          {"offset":0.8,"color":"#ee1111"},{"offset":0.825,"color":"#ee1111"},{"offset":0.825,"color":"#fff"},{"offset":0.85,"color":"#fff"},
          {"offset":0.85,"color":"#ee1111"},{"offset":0.875,"color":"#ee1111"},{"offset":0.875,"color":"#fff"},{"offset":0.9,"color":"#fff"},
          {"offset":0.9,"color":"#ee1111"},{"offset":0.925,"color":"#ee1111"},{"offset":0.925,"color":"#fff"},{"offset":0.95,"color":"#fff"},
          {"offset":0.95,"color":"#ee1111"},{"offset":0.975,"color":"#ee1111"},{"offset":0.975,"color":"#fff"},{"offset":1,"color":"#fff"}]}}},
        {"transform": [{"filter": "datum.method === 'Coherence'"}], "mark": {"type": "bar", "fill": {"gradient": "linear", "x1": 0, "y1": 0, "x2": 1, "y2": 0, "stops": [
          {"offset":0,"color":"#fff"},{"offset":0.0425,"color":"#fff"},{"offset":0.0425,"color":"rgba(255,255,255,0)"},{"offset":0.2075,"color":"rgba(255,255,255,0)"},
          {"offset":0.2075,"color":"#fff"},{"offset":0.2925,"color":"#fff"},{"offset":0.2925,"color":"rgba(255,255,255,0)"},{"offset":0.4575,"color":"rgba(255,255,255,0)"},
          {"offset":0.4575,"color":"#fff"},{"offset":0.5425,"color":"#fff"},{"offset":0.5425,"color":"rgba(255,255,255,0)"},{"offset":0.7075,"color":"rgba(255,255,255,0)"},
          {"offset":0.7075,"color":"#fff"},{"offset":0.7925,"color":"#fff"},{"offset":0.7925,"color":"rgba(255,255,255,0)"},{"offset":0.9575,"color":"rgba(255,255,255,0)"},
          {"offset":0.9575,"color":"#fff"},{"offset":1,"color":"#fff"}]}}},
        {"transform": [{"filter": "datum.method === 'Coherence'"}], "mark": {"type": "bar", "fill": {"gradient": "linear", "x1": 0, "y1": 0, "x2": 0, "y2": 1, "stops": [
          {"offset":0,"color":"#fff"},{"offset":0.0243,"color":"#fff"},{"offset":0.0243,"color":"rgba(255,255,255,0)"},{"offset":0.1185,"color":"rgba(255,255,255,0)"},
          {"offset":0.1185,"color":"#fff"},{"offset":0.1672,"color":"#fff"},{"offset":0.1672,"color":"rgba(255,255,255,0)"},{"offset":0.2614,"color":"rgba(255,255,255,0)"},
          {"offset":0.2614,"color":"#fff"},{"offset":0.31,"color":"#fff"},{"offset":0.31,"color":"rgba(255,255,255,0)"},{"offset":0.4042,"color":"rgba(255,255,255,0)"},
          {"offset":0.4042,"color":"#fff"},{"offset":0.4529,"color":"#fff"},{"offset":0.4529,"color":"rgba(255,255,255,0)"},{"offset":0.5471,"color":"rgba(255,255,255,0)"},
          {"offset":0.5471,"color":"#fff"},{"offset":0.5958,"color":"#fff"},{"offset":0.5958,"color":"rgba(255,255,255,0)"},{"offset":0.69,"color":"rgba(255,255,255,0)"},
          {"offset":0.69,"color":"#fff"},{"offset":0.7386,"color":"#fff"},{"offset":0.7386,"color":"rgba(255,255,255,0)"},{"offset":0.8328,"color":"rgba(255,255,255,0)"},
          {"offset":0.8328,"color":"#fff"},{"offset":0.8815,"color":"#fff"},{"offset":0.8815,"color":"rgba(255,255,255,0)"},{"offset":0.9757,"color":"rgba(255,255,255,0)"},
          {"offset":0.9757,"color":"#fff"},{"offset":1,"color":"#fff"}]}}},
        {"transform": [{"filter": "datum.method === 'Coherence'"}], "mark": {"type": "bar", "fill": {"gradient": "linear", "x1": 0, "y1": 0, "x2": 0.6769, "y2": 1.1846, "stops": [
          {"offset":0,"color":"rgba(255,255,255,0)"},{"offset":0.03,"color":"rgba(255,255,255,0)"},{"offset":0.03,"color":"#fff"},{"offset":0.0609,"color":"#fff"},
          {"offset":0.0609,"color":"rgba(255,255,255,0)"},{"offset":0.1209,"color":"rgba(255,255,255,0)"},{"offset":0.1209,"color":"#fff"},{"offset":0.1518,"color":"#fff"},
          {"offset":0.1518,"color":"rgba(255,255,255,0)"},{"offset":0.2118,"color":"rgba(255,255,255,0)"},{"offset":0.2118,"color":"#fff"},{"offset":0.2427,"color":"#fff"},
          {"offset":0.2427,"color":"rgba(255,255,255,0)"},{"offset":0.3027,"color":"rgba(255,255,255,0)"},{"offset":0.3027,"color":"#fff"},{"offset":0.3336,"color":"#fff"},
          {"offset":0.3336,"color":"rgba(255,255,255,0)"},{"offset":0.3936,"color":"rgba(255,255,255,0)"},{"offset":0.3936,"color":"#fff"},{"offset":0.4245,"color":"#fff"},
          {"offset":0.4245,"color":"rgba(255,255,255,0)"},{"offset":0.4845,"color":"rgba(255,255,255,0)"},{"offset":0.4845,"color":"#fff"},{"offset":0.5155,"color":"#fff"},
          {"offset":0.5155,"color":"rgba(255,255,255,0)"},{"offset":0.5755,"color":"rgba(255,255,255,0)"},{"offset":0.5755,"color":"#fff"},{"offset":0.6064,"color":"#fff"},
          {"offset":0.6064,"color":"rgba(255,255,255,0)"},{"offset":0.6664,"color":"rgba(255,255,255,0)"},{"offset":0.6664,"color":"#fff"},{"offset":0.6973,"color":"#fff"},
          {"offset":0.6973,"color":"rgba(255,255,255,0)"},{"offset":0.7573,"color":"rgba(255,255,255,0)"},{"offset":0.7573,"color":"#fff"},{"offset":0.7882,"color":"#fff"},
          {"offset":0.7882,"color":"rgba(255,255,255,0)"},{"offset":0.8482,"color":"rgba(255,255,255,0)"},{"offset":0.8482,"color":"#fff"},{"offset":0.8791,"color":"#fff"},
          {"offset":0.8791,"color":"rgba(255,255,255,0)"},{"offset":0.9391,"color":"rgba(255,255,255,0)"},{"offset":0.9391,"color":"#fff"},{"offset":0.97,"color":"#fff"},
          {"offset":0.97,"color":"rgba(255,255,255,0)"},{"offset":1,"color":"rgba(255,255,255,0)"}]}}},
        {"transform": [{"filter": "datum.method === 'Coherence'"}], "mark": {"type": "bar", "fill": {"gradient": "linear", "x1": 0, "y1": 1, "x2": 0.6769, "y2": -0.1846, "stops": [
          {"offset":0,"color":"rgba(255,255,255,0)"},{"offset":0.03,"color":"rgba(255,255,255,0)"},{"offset":0.03,"color":"#fff"},{"offset":0.0609,"color":"#fff"},
          {"offset":0.0609,"color":"rgba(255,255,255,0)"},{"offset":0.1209,"color":"rgba(255,255,255,0)"},{"offset":0.1209,"color":"#fff"},{"offset":0.1518,"color":"#fff"},
          {"offset":0.1518,"color":"rgba(255,255,255,0)"},{"offset":0.2118,"color":"rgba(255,255,255,0)"},{"offset":0.2118,"color":"#fff"},{"offset":0.2427,"color":"#fff"},
          {"offset":0.2427,"color":"rgba(255,255,255,0)"},{"offset":0.3027,"color":"rgba(255,255,255,0)"},{"offset":0.3027,"color":"#fff"},{"offset":0.3336,"color":"#fff"},
          {"offset":0.3336,"color":"rgba(255,255,255,0)"},{"offset":0.3936,"color":"rgba(255,255,255,0)"},{"offset":0.3936,"color":"#fff"},{"offset":0.4245,"color":"#fff"},
          {"offset":0.4245,"color":"rgba(255,255,255,0)"},{"offset":0.4845,"color":"rgba(255,255,255,0)"},{"offset":0.4845,"color":"#fff"},{"offset":0.5155,"color":"#fff"},
          {"offset":0.5155,"color":"rgba(255,255,255,0)"},{"offset":0.5755,"color":"rgba(255,255,255,0)"},{"offset":0.5755,"color":"#fff"},{"offset":0.6064,"color":"#fff"},
          {"offset":0.6064,"color":"rgba(255,255,255,0)"},{"offset":0.6664,"color":"rgba(255,255,255,0)"},{"offset":0.6664,"color":"#fff"},{"offset":0.6973,"color":"#fff"},
          {"offset":0.6973,"color":"rgba(255,255,255,0)"},{"offset":0.7573,"color":"rgba(255,255,255,0)"},{"offset":0.7573,"color":"#fff"},{"offset":0.7882,"color":"#fff"},
          {"offset":0.7882,"color":"rgba(255,255,255,0)"},{"offset":0.8482,"color":"rgba(255,255,255,0)"},{"offset":0.8482,"color":"#fff"},{"offset":0.8791,"color":"#fff"},
          {"offset":0.8791,"color":"rgba(255,255,255,0)"},{"offset":0.9391,"color":"rgba(255,255,255,0)"},{"offset":0.9391,"color":"#fff"},{"offset":0.97,"color":"#fff"},
          {"offset":0.97,"color":"rgba(255,255,255,0)"},{"offset":1,"color":"rgba(255,255,255,0)"}]}}},
        {"transform": [{"filter": "datum.method === 'Proposed'"}], "mark": {"type": "bar", "fill": {"gradient": "linear", "x1": 0, "y1": 0, "x2": 1, "y2": 0, "stops": [
          {"offset":0,"color":"#fff"},{"offset":0.1,"color":"#fff"},{"offset":0.1,"color":"#000"},{"offset":0.15,"color":"#000"},
          {"offset":0.15,"color":"#fff"},{"offset":0.225,"color":"#fff"},{"offset":0.225,"color":"#000"},{"offset":0.275,"color":"#000"},
          {"offset":0.275,"color":"#fff"},{"offset":0.35,"color":"#fff"},{"offset":0.35,"color":"#000"},{"offset":0.4,"color":"#000"},
          {"offset":0.4,"color":"#fff"},{"offset":0.475,"color":"#fff"},{"offset":0.475,"color":"#000"},{"offset":0.525,"color":"#000"},
          {"offset":0.525,"color":"#fff"},{"offset":0.6,"color":"#fff"},{"offset":0.6,"color":"#000"},{"offset":0.65,"color":"#000"},
          {"offset":0.65,"color":"#fff"},{"offset":0.725,"color":"#fff"},{"offset":0.725,"color":"#000"},{"offset":0.775,"color":"#000"},
          {"offset":0.775,"color":"#fff"},{"offset":0.85,"color":"#fff"},{"offset":0.85,"color":"#000"},{"offset":0.9,"color":"#000"},
          {"offset":0.9,"color":"#fff"},{"offset":1,"color":"#fff"}]}}},
        {"mark": {"type": "bar", "fillOpacity": 0, "strokeWidth": 1.5}, "encoding": {"stroke": {"field": "method", "type": "nominal", "scale": {"domain": ["Noisy", "LogMMSE", "Coherence", "Proposed"], "range": ["#3a7fc4", "#ff0000", "#6a9a4a", "#000000"]}, "legend": null}}}
      ]
    }
  ],
  "config": {
    "font": "Lato",
    "view": {"stroke": null},
    "axis": {"labelColor": "#595959", "gridColor": "#d9d9d9", "domainColor": "#d9d9d9", "ticks": false},
    "axisY": {"domain": false, "labelFontSize": 11, "labelPadding": 16},
    "axisX": {"grid": false, "labelFontSize": 19, "labelPadding": 10, "labelAngle": 0},
    "title": {"fontSize": 24, "color": "#595959", "fontWeight": "normal", "offset": -9, "anchor": "middle"},
    "legend": {"orient": "bottom", "direction": "horizontal", "labelFontSize": 23, "labelColor": "#595959", "symbolType": "square", "symbolSize": 180, "symbolStrokeWidth": 0, "columnPadding": 38, "labelOffset": 5, "offset": 8, "layout": {"bottom": {"anchor": "middle"}}}
  }
}
